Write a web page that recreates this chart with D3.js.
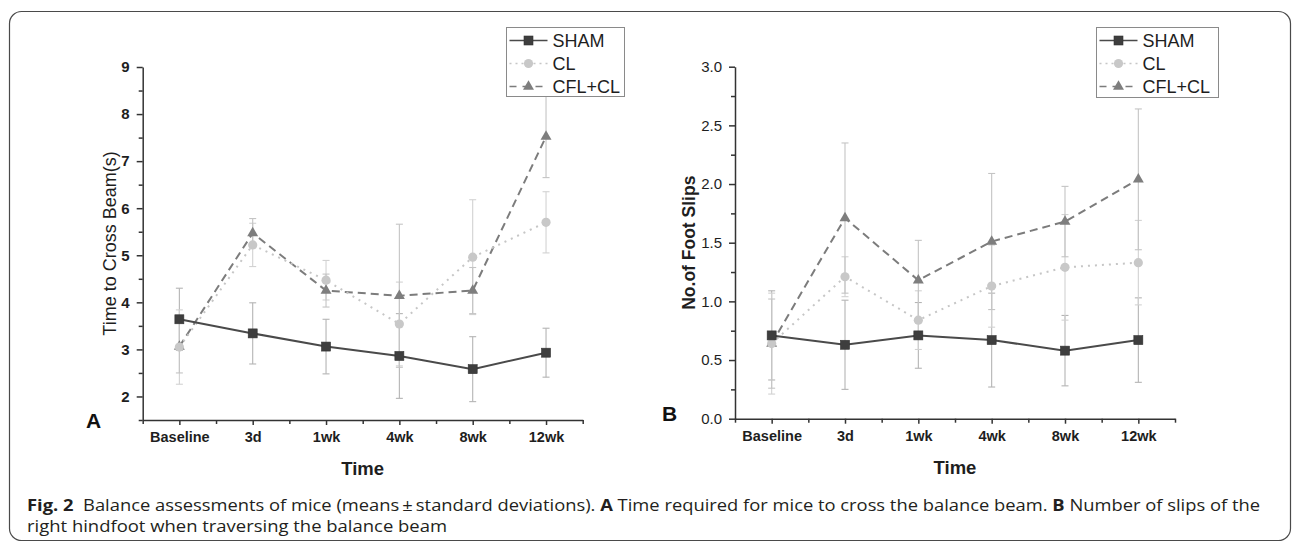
<!DOCTYPE html>
<html>
<head>
<meta charset="utf-8">
<script src="https://cdn.jsdelivr.net/npm/d3@7"></script>
<style>
  html, body { margin: 0; padding: 0; background: #fff; }
  svg { display: block; }
</style>
</head>
<body>
<svg id="chart" width="1293" height="542"></svg>
<script>
// ---------- data ----------
const categories = ["Baseline", "3d", "1wk", "4wk", "8wk", "12wk"];
const seriesNames = ["SHAM", "CL", "CFL+CL"];

// Panel A: time to cross beam (s)
const timeSham   = [3.64, 3.34, 3.06, 2.86, 2.58, 2.93];
const timeShamSD = [0.66, 0.65, 0.58, 0.90, 0.69, 0.52];
const timeCL     = [3.05, 5.22, 4.47, 3.54, 4.96, 5.70];
const timeCLSD   = [0.79, 0.46, 0.42, 0.89, 1.22, 0.65];
const timeCFL    = [3.06, 5.47, 4.25, 4.14, 4.25, 7.52];
const timeCFLSD  = [0.56, 0.31, 0.35, 1.52, 0.49, 0.87];

// Panel B: number of foot slips
const slipSham   = [0.71, 0.63, 0.71, 0.67, 0.58, 0.67];
const slipShamSD = [0.38, 0.38, 0.28, 0.40, 0.30, 0.36];
const slipCL     = [0.64, 1.21, 0.84, 1.13, 1.29, 1.33];
const slipCLSD   = [0.43, 0.17, 0.25, 0.35, 0.45, 0.36];
const slipCFL    = [0.64, 1.71, 1.18, 1.51, 1.68, 2.04];
const slipCFLSD  = [0.38, 0.64, 0.34, 0.58, 0.30, 0.60];

// tick values
const timeTicks  = [2, 3, 4, 5, 6, 7, 8, 9];
const timeMinor  = [1.5, 2.5, 3.5, 4.5, 5.5, 6.5, 7.5, 8.5];
const slipTicks  = [0, 0.5, 1.0, 1.5, 2.0, 2.5, 3.0];
const slipMinor  = [0.25, 0.75, 1.25, 1.75, 2.25, 2.75];

const captionLine1 = [
  {t: "Fig. 2", b: true},
  {t: "\u00a0 Balance assessments of mice (means\u2009\u00b1\u2009standard deviations). ", b: false},
  {t: "A", b: true},
  {t: " Time required for mice to cross the balance beam. ", b: false},
  {t: "B", b: true},
  {t: " Number of slips of the", b: false}
];
const captionLine2 = "right hindfoot when traversing the balance beam";

// ---------- styles ----------
const styles = {
  "SHAM":   {line: "#4a4a4a", dash: null,  marker: "square",   fill: "#3e3e3e", err: "#b4b4b4"},
  "CL":     {line: "#c6c6c6", dash: "2,5", marker: "circle",   fill: "#c8c8c8", err: "#d2d2d2"},
  "CFL+CL": {line: "#7c7c7c", dash: "8,5", marker: "triangle", fill: "#7e7e7e", err: "#c4c4c4"}
};
const FONT = "'Liberation Sans', Arial, sans-serif";

const svg = d3.select("#chart");

// frame
svg.append("rect")
  .attr("x", 9.5).attr("y", 11.5).attr("width", 1281).attr("height", 529)
  .attr("rx", 12).attr("ry", 12)
  .attr("fill", "none").attr("stroke", "#4a4a4a").attr("stroke-width", 1.2);

function drawMarker(g, type, x, y, fill) {
  if (type === "square") {
    g.append("rect").attr("x", x - 4.5).attr("y", y - 4.5).attr("width", 9).attr("height", 9)
      .attr("fill", fill).attr("stroke", "#333").attr("stroke-width", 0.6);
  } else if (type === "circle") {
    g.append("circle").attr("cx", x).attr("cy", y).attr("r", 4.6).attr("fill", fill);
  } else {
    g.append("path").attr("d", d3.symbol(d3.symbolTriangle, 52)())
      .attr("transform", `translate(${x},${y})`).attr("fill", fill);
  }
}

function panel(cfg) {
  const g = svg.append("g");
  const x = d3.scalePoint().domain(categories).range(cfg.xr).padding(0.5);
  const xi = d3.scaleLinear().domain([-0.5, categories.length - 0.5]).range(cfg.xr);
  const y = d3.scaleLinear().domain(cfg.yd).range(cfg.yr);

  // error bars first
  cfg.series.forEach(s => {
    const st = styles[s.name];
    s.values.forEach((v, i) => {
      const cx = x(categories[i]);
      const y1 = y(v - s.sd[i]), y2 = y(v + s.sd[i]);
      g.append("line").attr("x1", cx).attr("x2", cx).attr("y1", y1).attr("y2", y2)
        .attr("stroke", st.err).attr("stroke-width", 1.1);
      [y1, y2].forEach(yy => g.append("line").attr("x1", cx - 3.5).attr("x2", cx + 3.5)
        .attr("y1", yy).attr("y2", yy).attr("stroke", st.err).attr("stroke-width", 1.1));
    });
  });
  // lines + markers
  cfg.series.slice().reverse().forEach(s => {
    const st = styles[s.name];
    const line = d3.line().x((d, i) => x(categories[i])).y(d => y(d));
    g.append("path").datum(s.values).attr("d", line)
      .attr("fill", "none").attr("stroke", st.line).attr("stroke-width", 2)
      .attr("stroke-dasharray", st.dash);
  });
  cfg.series.slice().reverse().forEach(s => {
    const st = styles[s.name];
    s.values.forEach((v, i) => drawMarker(g, st.marker, x(categories[i]), y(v), st.fill));
  });

  // axes
  const xAxis = g.append("g").attr("transform", `translate(0,${cfg.yr[0]})`)
    .call(d3.axisBottom(x).tickSize(5).tickSizeOuter(0).tickPadding(7));
  xAxis.selectAll("text").attr("font-family", FONT).attr("font-size", 14.5)
    .attr("font-weight", "bold").attr("fill", "#1e1e1e");
  const xMinor = g.append("g").attr("transform", `translate(0,${cfg.yr[0]})`)
    .call(d3.axisBottom(xi).tickValues(d3.range(-0.5, categories.length, 1)).tickSize(4).tickFormat(""));
  xMinor.select(".domain").remove();

  const yAxis = g.append("g").attr("transform", `translate(${cfg.xr[0]},0)`)
    .call(d3.axisLeft(y).tickValues(cfg.ticks).tickSize(6).tickSizeOuter(0).tickPadding(7)
      .tickFormat(cfg.fmt));
  yAxis.selectAll("text").attr("font-family", FONT).attr("font-size", 15)
    .attr("font-weight", cfg.yBold ? "bold" : "normal").attr("fill", "#1e1e1e");
  const yMinor = g.append("g").attr("transform", `translate(${cfg.xr[0]},0)`)
    .call(d3.axisLeft(y).tickValues(cfg.minor).tickSize(4).tickFormat(""));
  yMinor.select(".domain").remove();

  g.selectAll(".domain, .tick line").attr("stroke", "#333").attr("stroke-width", 1.5);

  // axis titles
  g.append("text").attr("x", (cfg.xr[0] + cfg.xr[1]) / 2).attr("y", cfg.yr[0] + 55)
    .attr("text-anchor", "middle").attr("font-family", FONT).attr("font-size", 18.5)
    .attr("font-weight", "bold").attr("fill", "#1e1e1e").text("Time");
  g.append("text")
    .attr("transform", `translate(${cfg.ytx},${(cfg.yr[0] + cfg.yr[1]) / 2}) rotate(-90)`)
    .attr("text-anchor", "middle").attr("font-family", FONT).attr("font-size", cfg.ytSize)
    .attr("font-weight", cfg.ytBold ? "bold" : "normal").attr("fill", "#1e1e1e").text(cfg.ytitle);
  // panel letter
  g.append("text").attr("x", cfg.letterX).attr("y", cfg.letterY)
    .attr("font-family", FONT).attr("font-size", 21).attr("font-weight", "bold")
    .attr("fill", "#111").text(cfg.letter);

  // legend
  const L = cfg.legend;
  const lg = g.append("g");
  lg.append("rect").attr("x", L.x).attr("y", L.y).attr("width", L.w).attr("height", L.h)
    .attr("fill", "#fff").attr("stroke", "#8a8a8a").attr("stroke-width", 1);
  seriesNames.forEach((n, i) => {
    const st = styles[n];
    const ry = L.y + 13 + i * 23;
    lg.append("line").attr("x1", L.x + 3).attr("x2", L.x + 41).attr("y1", ry).attr("y2", ry)
      .attr("stroke", st.line).attr("stroke-width", 1.6)
      .attr("stroke-dasharray", n === "CL" ? "2,4" : (n === "CFL+CL" ? "7,6" : null));
    drawMarker(lg, st.marker, L.x + 22, ry, st.fill);
    lg.append("text").attr("x", L.x + 46).attr("y", ry + 6.5)
      .attr("font-family", FONT).attr("font-size", 18).attr("fill", "#1e1e1e").text(n);
  });
}

panel({
  xr: [142.7, 582.7], yd: [1.5, 9], yr: [420, 67],
  ticks: timeTicks, minor: timeMinor, fmt: d3.format("d"), yBold: true,
  ytitle: "Time to Cross Beam(s)", ytx: 116, ytSize: 18, ytBold: false,
  letter: "A", letterX: 86, letterY: 428,
  legend: {x: 506.5, y: 27.5, w: 118, h: 69},
  series: [
    {name: "SHAM", values: timeSham, sd: timeShamSD},
    {name: "CL", values: timeCL, sd: timeCLSD},
    {name: "CFL+CL", values: timeCFL, sd: timeCFLSD}
  ]
});

panel({
  xr: [735, 1175], yd: [0, 3], yr: [418.7, 66.7],
  ticks: slipTicks, minor: slipMinor, fmt: d3.format(".1f"), yBold: false,
  ytitle: "No.of Foot Slips", ytx: 695, ytSize: 17.5, ytBold: true,
  letter: "B", letterX: 662, letterY: 421,
  legend: {x: 1096.5, y: 27.5, w: 122, h: 70},
  series: [
    {name: "SHAM", values: slipSham, sd: slipShamSD},
    {name: "CL", values: slipCL, sd: slipCLSD},
    {name: "CFL+CL", values: slipCFL, sd: slipCFLSD}
  ]
});

// caption
const CFONT = "'Open Sans', 'Noto Sans', sans-serif";
const c1 = svg.append("text").attr("x", 27).attr("y", 511)
  .attr("font-family", CFONT).attr("font-size", 16.5).attr("fill", "#231f20")
  .attr("textLength", 1233).attr("lengthAdjust", "spacingAndGlyphs");
captionLine1.forEach(p => c1.append("tspan").attr("font-weight", p.b ? "bold" : "normal").text(p.t));
svg.append("text").attr("x", 27).attr("y", 532)
  .attr("font-family", CFONT).attr("font-size", 16.5).attr("fill", "#231f20")
  .attr("textLength", 420).attr("lengthAdjust", "spacingAndGlyphs").text(captionLine2);
</script>
</body>
</html>
